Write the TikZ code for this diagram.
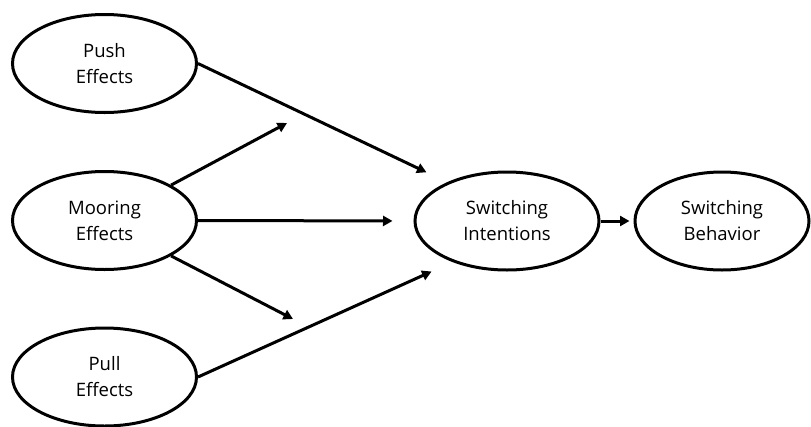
\documentclass[tikz,border=0pt]{standalone}
\usepackage{fontspec}
\setmainfont{Open Sans}
\usetikzlibrary{arrows.meta,shapes.geometric}
\begin{document}
\begin{tikzpicture}[x=1pt,y=-1pt,
  construct/.style={ellipse,draw,line width=3pt,inner sep=0pt,
    minimum width=184pt,minimum height=98pt,align=center,
    font=\fontsize{18.5}{26}\selectfont},
  arr/.style={line width=3pt,-{Triangle[length=9.5pt,width=10pt]}}]
\useasboundingbox (0,0) rectangle (811,426);
% exogenous constructs
\node[construct] (push) at (104.5,63.5) {Push\\Effects};
\node[construct] (moor) at (104.5,220.5) {Mooring\\Effects};
\node[construct] (pull) at (104.5,377) {Pull\\Effects};
% outcome constructs
\node[construct] (si) at (507,221) {Switching\\Intentions};
\node[construct,minimum width=174pt] (sb) at (722,221) {Switching\\Behavior};
% ends of the moderating arrows
\coordinate (modup) at (287,123);
\coordinate (moddown) at (293,319);
% paths
\draw[arr,shorten >=23pt] (push.east) -- (si.147);
\draw[arr,shorten >=21pt] (moor.east) -- (si.west);
\draw[arr,shorten >=23pt] (pull.east) -- (si.217);
\draw[arr] (moor.28) -- (modup);
\draw[arr] (moor.-28) -- (moddown);
\draw[arr,shorten >=4pt] (si.east) -- (sb.west);
\end{tikzpicture}
\end{document}
